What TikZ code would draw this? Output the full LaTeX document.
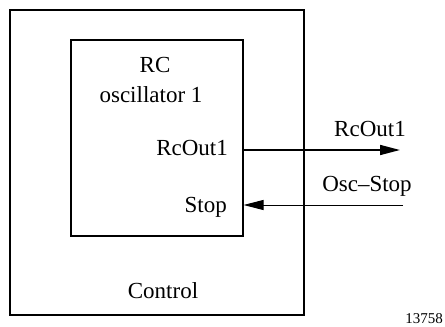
\documentclass[tikz,border=0pt]{standalone}
\usepackage{fontspec}
\setmainfont{Liberation Serif}
\usetikzlibrary{arrows.meta}
\begin{document}
\begin{tikzpicture}[x=1pt,y=-1pt,
  lbl/.style={anchor=base,inner sep=0pt,font=\fontsize{23}{24}\selectfont},
  outerbox/.style={draw,line width=2pt,minimum width=294pt,minimum height=305pt,inner sep=0pt},
  innerbox/.style={draw,line width=1.1pt,minimum width=172pt,minimum height=196pt,inner sep=0pt},
  sig/.style={-{Triangle[length=20pt,width=10pt]}}]
\useasboundingbox (0,0) rectangle (445,327);
\node[outerbox] (ctrl) at (157,162.5) {};
\node[innerbox] (osc) at (157,138) {};
\node[lbl] (rc) at (155,72) {RC};
\node[lbl] (oscname) at (151,102) {oscillator 1};
\node[lbl,anchor=base east] (rcout) at (228,155) {RcOut1};
\node[lbl,anchor=base east] (stop) at (227,212) {Stop};
\node[lbl] (control) at (163,298) {Control};
\node[lbl] (rcoutext) at (370,136) {RcOut1};
\node[lbl] (oscstop) at (367,191) {Osc--Stop};
\node[anchor=base east,inner sep=0pt,font=\fontsize{15}{16}\selectfont] (num) at (443,323) {13758};
\coordinate (outend) at (400,150);
\coordinate (stopsrc) at (403,205);
\draw[sig,line width=1.6pt] (osc.east |- outend) -- (outend);
\draw[sig,line width=0.9pt] (stopsrc) -- (osc.east |- stopsrc);
\end{tikzpicture}
\end{document}
